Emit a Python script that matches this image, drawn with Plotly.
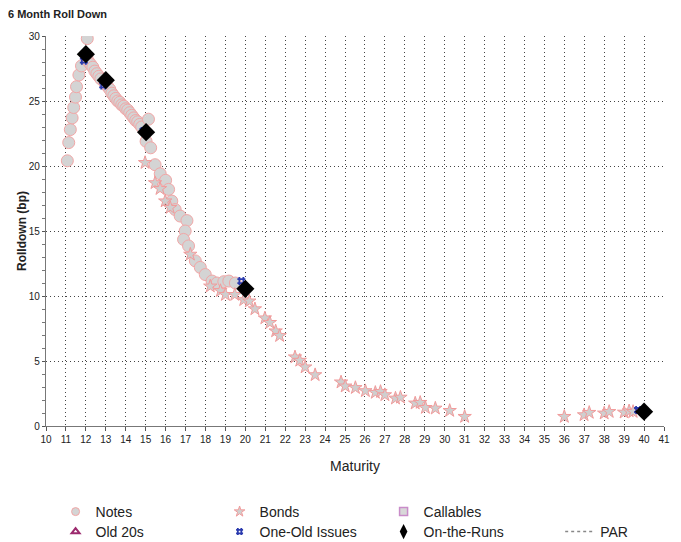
import plotly.graph_objects as go

# ---- data ----
notes_x = [11.07, 11.14, 11.22, 11.31, 11.39, 11.48, 11.53, 11.65, 11.78, 12.07,
           12.05, 12.15, 12.25, 12.35, 12.45, 12.55, 12.65, 12.75, 12.95, 13.1,
           13.2, 13.3, 13.4, 13.5, 13.6, 13.7, 13.8, 13.9, 14.0, 14.1,
           14.2, 14.3, 14.4, 14.5, 14.6, 14.7, 14.8, 15.14, 15.02, 15.25,
           15.47, 15.73, 16.0, 16.15, 16.31, 16.48, 16.73, 17.07, 16.98, 16.9,
           17.15, 17.49, 17.74, 17.99, 18.33, 18.58, 18.92, 19.17, 19.5]
notes_y = [20.4, 21.8, 22.8, 23.7, 24.5, 25.3, 26.1, 27.0, 27.7, 29.8,
           28.4, 28.0, 27.8, 27.6, 27.3, 27.1, 26.9, 26.7, 26.4, 26.1,
           25.9, 25.6, 25.4, 25.2, 25.0, 24.9, 24.7, 24.6, 24.4, 24.3,
           24.1, 23.9, 23.7, 23.5, 23.4, 23.2, 23.0, 23.6, 21.9, 21.4,
           20.1, 19.4, 18.9, 18.2, 17.3, 16.65, 16.15, 15.8, 15.0, 14.35,
           13.85, 12.7, 12.2, 11.65, 11.15, 11.0, 11.1, 11.15, 11.0]

bonds_x = [14.97, 15.47, 15.72, 15.98, 16.23, 17.24, 18.24, 18.75, 19.0, 19.47,
           19.92, 20.2, 20.48, 20.98, 21.23, 21.52, 21.72, 22.49, 22.73, 23.0,
           23.5, 24.8, 25.01, 25.52, 26.02, 26.52, 26.78, 27.0, 27.53, 27.78,
           28.52, 28.77, 29.03, 29.53, 30.25, 31.0, 36.0, 36.99, 37.25, 38.0,
           38.25, 39.0, 39.25, 39.45]
bonds_y = [20.25, 18.7, 18.25, 17.3, 16.8, 13.2, 10.75, 10.4, 10.1, 10.1,
           9.7, 9.6, 9.0, 8.3, 7.95, 7.3, 6.94, 5.3, 5.04, 4.53,
           3.93, 3.37, 3.06, 2.94, 2.7, 2.57, 2.64, 2.39, 2.13, 2.2,
           1.75, 1.8, 1.41, 1.36, 1.18, 0.72, 0.72, 0.85, 1.03, 0.98,
           1.1, 1.05, 1.15, 1.1]

oneold_x = [11.9, 12.87, 14.89, 19.8, 39.7]
oneold_y = [28.1, 26.2, 22.7, 11.15, 1.23]

otr_x = [12.0, 13.0, 15.02, 20.0, 40.0]
otr_y = [28.6, 26.6, 22.6, 10.55, 1.1]

x_ticks = list(range(10, 42))
y_ticks = [0, 5, 10, 15, 20, 25, 30]

legend_row1 = ["Notes", "Bonds", "Callables"]
legend_row2 = ["Old 20s", "One-Old Issues", "On-the-Runs"]
legend_par = ["PAR"]

# ---- styles ----
styles = {
    "Notes": dict(symbol="circle", color="#d4d4d4", line="#f2a6a6", lw=1),
    "Bonds": dict(symbol="star", color="#cfcfcf", line="#f29a9a", lw=1),
    "Callables": dict(symbol="square", color="#d8d8d8", line="#c98cc9", lw=1.5),
    "Old 20s": dict(symbol="triangle-up-open", color="#9c2a6e", line="#9c2a6e", lw=2),
    "One-Old Issues": dict(symbol="hash", color="#2a3aae", line="#2a3aae", lw=1.8),
    "On-the-Runs": dict(symbol="diamond-tall", color="#000000", line="#000000", lw=0),
}
legend_sizes = {"Notes": 8, "Bonds": 8, "Callables": 8, "Old 20s": 7,
                "One-Old Issues": 7, "On-the-Runs": 11}

fig = go.Figure()

def add_series(name, xs, ys, size):
    s = styles[name]
    fig.add_trace(go.Scatter(
        x=xs, y=ys, mode="markers", name=name, showlegend=False,
        marker=dict(symbol=s["symbol"], size=size, color=s["color"],
                    line=dict(color=s["line"], width=s["lw"]))))

add_series("Notes", notes_x, notes_y, 12)
add_series("Bonds", bonds_x, bonds_y, 10)
add_series("One-Old Issues", oneold_x, oneold_y, 8)
fig.add_trace(go.Scatter(
    x=otr_x, y=otr_y, mode="markers", name="On-the-Runs", showlegend=False,
    marker=dict(symbol="diamond", size=14, color="#000000")))

# legend entries (small symbols as in the reference)
for legname, row in (("legend", legend_row1), ("legend2", legend_row2), ("legend3", legend_par)):
    for name in row:
        if name == "PAR":
            fig.add_trace(go.Scatter(
                x=[None], y=[None], mode="lines", name=name, legend=legname,
                line=dict(color="#888888", width=1.5, dash="dot")))
        else:
            s = styles[name]
            fig.add_trace(go.Scatter(
                x=[None], y=[None], mode="markers", name=name, legend=legname,
                marker=dict(symbol=s["symbol"], size=legend_sizes[name], color=s["color"],
                            line=dict(color=s["line"], width=s["lw"]))))

tick_font = dict(family="Liberation Sans Narrow, Liberation Sans, Arial", size=10, color="#222")
leg_font = dict(family="Liberation Sans, Arial", size=14, color="#222")

def leg(x, y):
    return dict(orientation="h", x=x, xanchor="left", y=y, yanchor="middle",
                entrywidth=119, entrywidthmode="pixels", font=leg_font,
                bgcolor="rgba(0,0,0,0)", itemsizing="trace", tracegroupgap=0)

# page body has an 8px margin: figure is positioned to compensate
fig.update_layout(
    width=673, height=542,
    margin=dict(l=38, r=17, t=28, b=124, autoexpand=False),
    paper_bgcolor="white", plot_bgcolor="white",
    title=dict(text="<b>6 Month Roll Down</b>", x=0.0, xanchor="left",
               y=0.989, yanchor="middle",
               font=dict(family="Liberation Sans, Arial", size=11, color="#222")),
    xaxis=dict(range=[10, 41], tickvals=x_ticks, ticktext=[str(v) for v in x_ticks],
               showgrid=True, gridcolor="#444", griddash="1px,3px", gridwidth=1,
               showline=True, linecolor="#777", linewidth=1.2,
               ticks="outside", ticklen=4, tickcolor="#555",
               tickfont=tick_font, zeroline=False, automargin=False,
               title=dict(text="Maturity", standoff=17,
                          font=dict(family="Liberation Sans, Arial", size=14, color="#222"))),
    yaxis=dict(range=[0, 30], tickvals=y_ticks, ticktext=[str(v) for v in y_ticks],
               showgrid=True, gridcolor="#444", griddash="1px,3px", gridwidth=1,
               showline=True, linecolor="#777", linewidth=1.2,
               ticks="outside", ticklen=3, tickcolor="#555",
               minor=dict(dtick=1, ticks="outside", ticklen=3, tickcolor="#777", showgrid=False),
               tickfont=tick_font, zeroline=False, automargin=False),
    annotations=[dict(text="<b>Rolldown (bp)</b>", xref="paper", yref="paper",
                      x=-0.0388, y=0.5, xanchor="center", yanchor="middle",
                      textangle=-90, showarrow=False,
                      font=dict(family="Liberation Sans, Arial", size=12, color="#222"))],
    legend=leg(0.0155, -0.2205),
    legend2=leg(0.0155, -0.2718),
    legend3=leg(0.832, -0.2718),
    showlegend=True,
)

fig.write_html("out.html")
